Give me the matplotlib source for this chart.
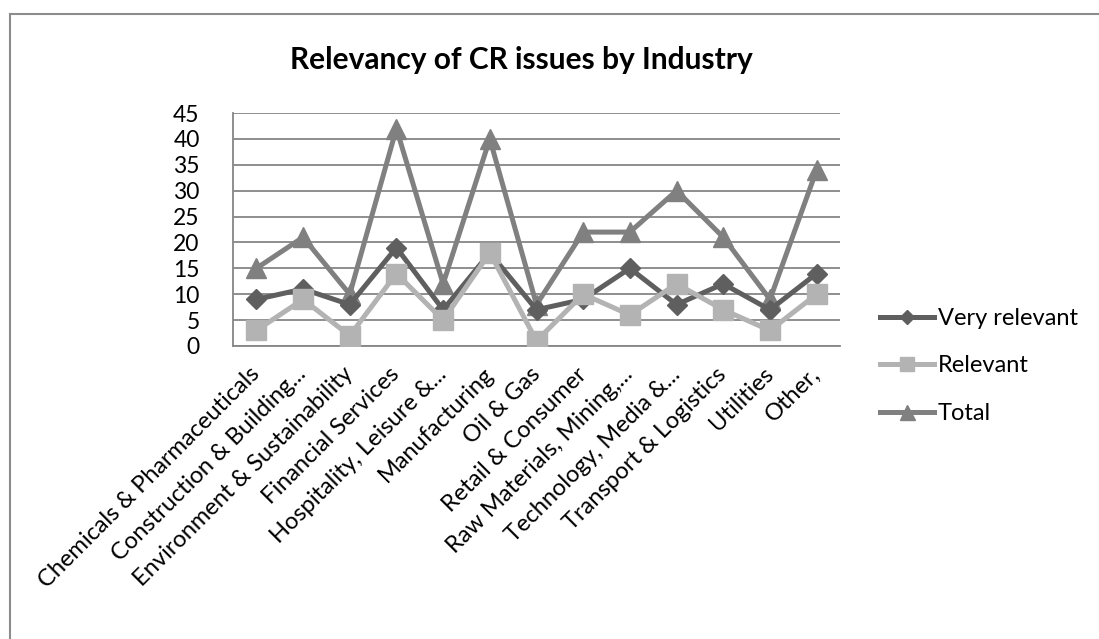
import matplotlib.pyplot as plt
import matplotlib.transforms as mtransforms
from matplotlib.lines import Line2D

categories = ["Chemicals & Pharmaceuticals", "Construction & Building...", "Environment & Sustainability",
              "Financial Services", "Hospitality, Leisure &...", "Manufacturing", "Oil & Gas",
              "Retail & Consumer", "Raw Materials, Mining,...", "Technology, Media &...",
              "Transport & Logistics", "Utilities", "Other,"]
very_relevant = [9, 11, 8, 19, 7, 18, 7, 9, 15, 8, 12, 7, 14]
relevant = [3, 9, 2, 14, 5, 18, 1, 10, 6, 12, 7, 3, 10]
total = [15, 21, 10, 42, 12, 40, 8, 22, 22, 30, 21, 9, 34]
y_ticks = [0, 5, 10, 15, 20, 25, 30, 35, 40, 45]

plt.rcParams['font.family'] = ['Lato', 'DejaVu Sans']

W, H = 1099, 639
fig = plt.figure(figsize=(W / 100, H / 100), dpi=100)

# outer chart border (only top & left visible)
fig.add_artist(Line2D([10 / W, 10 / W], [0, 1 - 14 / H], color='#8c8c8c', lw=1.5))
fig.add_artist(Line2D([10 / W, 1], [1 - 14 / H, 1 - 14 / H], color='#8c8c8c', lw=1.5))

left, right, top, bottom = 233, 840, 113, 346
ax = fig.add_axes([left / W, 1 - bottom / H, (right - left) / W, (bottom - top) / H])

x = list(range(len(categories)))
ax.plot(x, very_relevant, color='#5f5f5f', lw=3.6, marker='D', ms=10, label='Very relevant', zorder=3)
ax.plot(x, relevant, color='#b3b3b3', lw=3.6, marker='s', ms=14, label='Relevant', zorder=4)
ax.plot(x, total, color='#808080', lw=3.6, marker='^', ms=15, label='Total', zorder=2)

ax.set_xlim(-0.5, len(categories) - 0.5)
ax.set_ylim(0, 45)
ax.set_yticks(y_ticks)
ax.set_yticklabels([str(v) for v in y_ticks], fontsize=16.5)
ax.set_xticks(x)
ax.set_xticklabels(categories, rotation=45, ha='right', va='center', rotation_mode='anchor', fontsize=17)
shift = mtransforms.ScaledTranslation(-9 / 100, -3 / 100, fig.dpi_scale_trans)
for lab in ax.get_xticklabels():
    lab.set_transform(lab.get_transform() + shift)
ax.tick_params(axis='x', length=0, pad=18)
ax.tick_params(axis='y', length=0, pad=24)
ax.grid(axis='y', color='#868686', lw=1.3)
ax.set_axisbelow(True)
for s in ['top', 'right']:
    ax.spines[s].set_visible(False)
for s in ['left', 'bottom']:
    ax.spines[s].set_color('#868686')
    ax.spines[s].set_linewidth(1.3)

fig.text(521 / W, 1 - 60 / H, "Relevancy of CR issues by Industry", ha='center', va='center',
         fontsize=21.5, fontweight='bold')

ax.legend(loc='center left', bbox_to_anchor=(880 / W, 1 - 366 / H), bbox_transform=fig.transFigure,
          frameon=False, fontsize=17, handlelength=2.3, handletextpad=0.15, labelspacing=1.13,
          markerscale=0.72, borderaxespad=0, borderpad=0)

fig.savefig('out.png', dpi=100, facecolor='white')
